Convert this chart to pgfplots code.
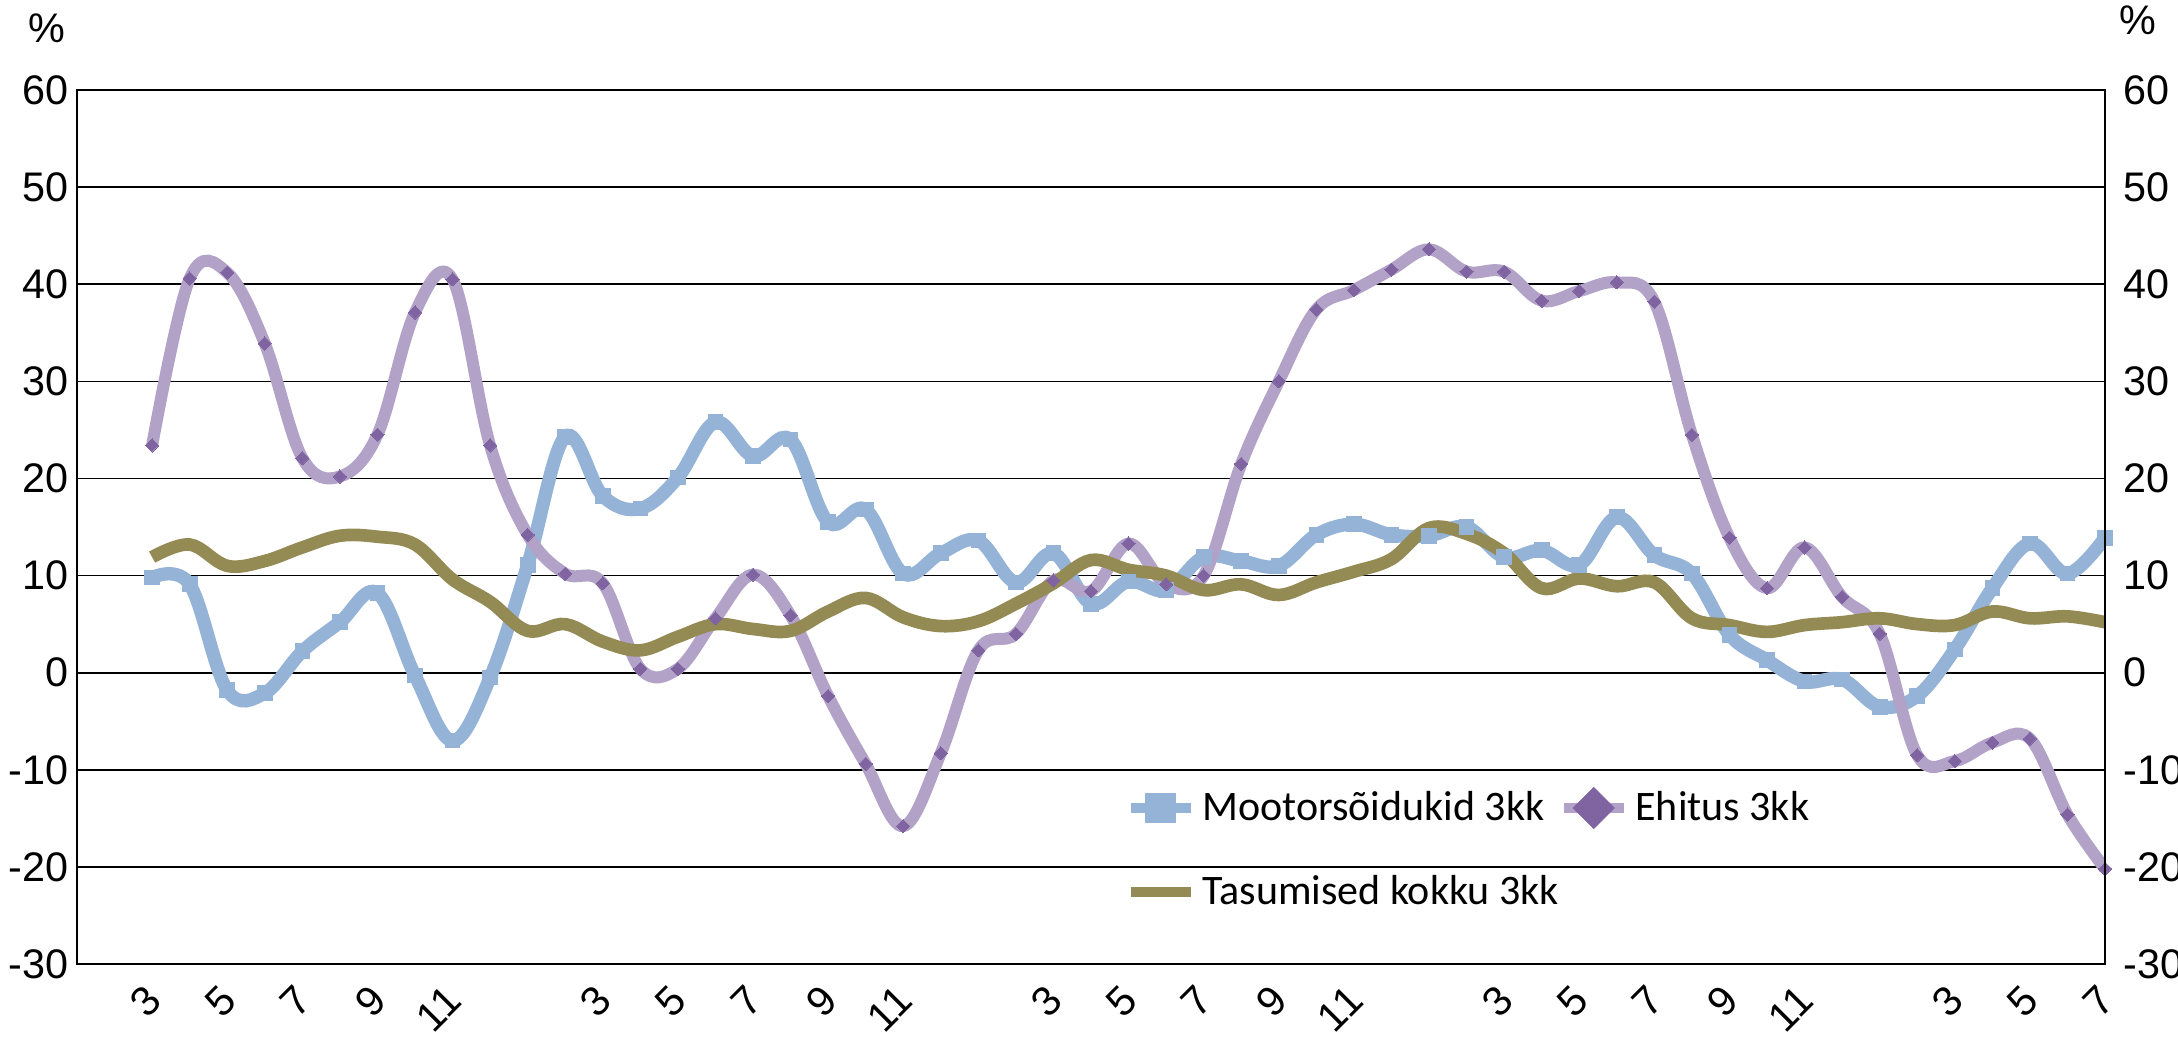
\documentclass[border=0pt]{standalone}
\usepackage{fontspec}
\setmainfont{Liberation Sans}
\newfontfamily\legfont{Carlito}
\usepackage{pgfplots}
\pgfplotsset{compat=1.18}
\usepackage{pgfplotstable}

\definecolor{mblue}{HTML}{95B3D7}
\definecolor{epurp}{HTML}{B3A2C7}
\definecolor{emark}{HTML}{8064A2}
\definecolor{tolive}{HTML}{948A54}

\pgfplotstableread{
x m e t
2 9.8 23.4 11.9
3 9.1 40.6 13.2
4 -1.8 41.2 11.0
5 -2.1 33.9 11.5
6 2.2 22.1 12.9
7 5.2 20.2 14.1
8 8.2 24.5 14.0
9 -0.3 37.1 13.2
10 -7.0 40.5 9.6
11 -0.5 23.4 7.3
12 11.1 14.2 4.3
13 24.3 10.2 5.0
14 18.2 9.2 3.2
15 16.9 0.4 2.3
16 20.1 0.4 3.7
17 25.8 5.6 5.0
18 22.3 10.1 4.5
19 24.0 5.9 4.3
20 15.5 -2.4 6.3
21 16.8 -9.4 7.7
22 10.2 -15.8 5.7
23 12.3 -8.3 4.8
24 13.6 2.3 5.3
25 9.3 4.0 7.1
26 12.3 9.5 9.2
27 7.1 8.4 11.6
28 9.4 13.3 10.6
29 8.5 9.1 10.0
30 11.9 10.0 8.5
31 11.5 21.5 9.1
32 11.0 30.0 8.0
33 14.2 37.4 9.3
34 15.3 39.4 10.4
35 14.2 41.5 11.7
36 14.1 43.6 14.9
37 15.0 41.3 14.3
38 11.9 41.3 12.3
39 12.6 38.3 8.7
40 11.1 39.3 9.7
41 16.0 40.2 8.9
42 12.1 38.2 9.3
43 10.2 24.5 5.6
44 3.9 13.9 4.9
45 1.3 8.7 4.2
46 -0.9 12.9 4.9
47 -0.7 7.8 5.2
48 -3.5 4.0 5.6
49 -2.4 -8.5 5.0
50 2.4 -9.1 4.9
51 8.7 -7.2 6.3
52 13.3 -6.8 5.6
53 10.2 -14.6 5.8
54 13.9 -20.2 5.2
}\data

\newcommand{\tickfont}{\fontsize{12.4}{14}\selectfont}

\begin{document}
\begin{tikzpicture}
\begin{axis}[name=ax, at={(0,0)}, anchor=south west, scale only axis,
  width=608.4pt, height=262.2pt,
  xmin=0, xmax=54, ymin=-30, ymax=60,
  ytick={-30,-20,...,60},
  ymajorgrids, major grid style={black, line width=0.5pt},
  xtick={2,4,...,54},
  xticklabels={3,5,7,9,11,,3,5,7,9,11,,3,5,7,9,11,,3,5,7,9,11,,3,5,7},
  major tick length=0pt,
  axis line style={black, line width=0.6pt},
  ticklabel style={font=\tickfont},
  /pgf/number format/assume math mode=true,
  yticklabel style={xshift=1pt},
  xticklabel style={xshift=2.9pt, yshift=-6.4pt, rotate=45, anchor=east},
  legend columns=2,
  legend cell align=left,
  legend style={at={(0.5168,0.1304)}, anchor=west, draw=none, fill=none,
    inner sep=0pt, font=\legfont\fontsize{12.6}{14}\selectfont,
    row sep=11pt, /tikz/every even column/.append style={column sep=-2pt}},
]
\addplot[mblue, line width=4pt, smooth, tension=0.6, mark=square*, mark size=2.2pt,
  mark options={line width=0pt, fill=mblue, draw=mblue},
  legend image code/.code={
    \draw[mblue, line width=3pt] (0pt,0pt) -- (18pt,0pt);
    \fill[mblue] (6.4pt,-2.6pt) rectangle (11.6pt,2.6pt);}]
  table[x=x, y=m]{\data};
\addlegendentry{Mootorsõidukid 3kk}
\addplot[epurp, line width=3.6pt, smooth, tension=0.6, mark=square*, mark size=1.4pt,
  mark options={rotate=45, line width=0pt, fill=emark, draw=emark},
  legend image code/.code={
    \draw[epurp, line width=3pt] (0pt,0pt) -- (18pt,0pt);
    \fill[emark] (9pt,3.8pt) -- (12.8pt,0pt) -- (9pt,-3.8pt) -- (5.2pt,0pt) -- cycle;}]
  table[x=x, y=e]{\data};
\addlegendentry{Ehitus 3kk}
\addplot[tolive, line width=3.8pt, smooth, tension=0.6, no markers,
  legend image code/.code={
    \draw[tolive, line width=3pt] (0pt,0pt) -- (18pt,0pt);}]
  table[x=x, y=t]{\data};
\addlegendentry{Tasumised kokku 3kk}
\end{axis}
\begin{axis}[at={(0,0)}, anchor=south west, scale only axis,
  width=608.4pt, height=262.2pt,
  xmin=0, xmax=54, ymin=-30, ymax=60,
  axis y line*=right, axis x line=none,
  ytick={-30,-20,...,60},
  major tick length=0pt,
  axis line style={black, line width=0.6pt},
  ticklabel style={font=\tickfont},
  /pgf/number format/assume math mode=true,
  yticklabel style={xshift=2pt},
]
\end{axis}
\node[font=\tickfont] at ([shift={(-9pt,18.6pt)}]ax.north west) {\%};
\node[font=\tickfont] at ([shift={(10pt,21pt)}]ax.north east) {\%};
\pgfresetboundingbox
\path (-23.1pt,-22.2pt) rectangle (630.3pt,289.2pt);
\end{tikzpicture}
\end{document}
